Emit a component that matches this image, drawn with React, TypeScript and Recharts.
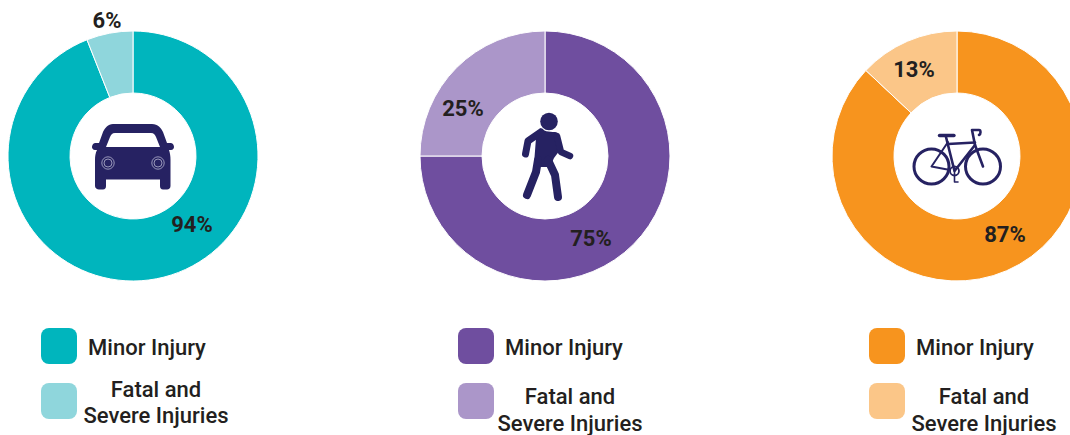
import { PieChart, Pie, Cell } from 'recharts';

const CATEGORIES = ['Minor Injury', 'Fatal and Severe Injuries'];
const CAR_VALUES = [94, 6];
const WALK_VALUES = [75, 25];
const BIKE_VALUES = [87, 13];

const TEAL = ['#00B5BD', '#8FD6DC'];
const PURPLE = ['#6F4E9F', '#AB96C9'];
const ORANGE = ['#F7941E', '#FBC688'];
const NAVY = '#262262';
const INK = '#231F20';
const FONT = 'Roboto, sans-serif';

const toRows = (values: number[]) => values.map((value, i) => ({ name: CATEGORIES[i], value }));

// label anchors are hand placed per slice, relative to the donut centre
const pieLabel = (offsets: number[][]) => (props: any) => {
  const [dx, dy] = offsets[props.index];
  return (
    <text
      x={props.cx + dx}
      y={props.cy + dy}
      textAnchor="middle"
      dominantBaseline="central"
      fontFamily={FONT}
      fontWeight={700}
      fontSize={22}
      fill={INK}
    >
      {props.value}%
    </text>
  );
};

function Donut({ values, colors, cx, offsets }: { values: number[]; colors: string[]; cx: number; offsets: number[][] }) {
  return (
    <Pie
      data={toRows(values)}
      dataKey="value"
      cx={cx}
      cy={156}
      innerRadius={63}
      outerRadius={125}
      startAngle={90}
      endAngle={-270}
      stroke="#fff"
      strokeWidth={1}
      isAnimationActive={false}
      labelLine={false}
      label={pieLabel(offsets)}
    >
      {values.map((_, i) => (
        <Cell key={i} fill={colors[i]} />
      ))}
    </Pie>
  );
}

const CarIcon = () => (
  <g>
    <path
      fill={NAVY}
      fillRule="evenodd"
      d="M113 124 H152 C158 124 161 128 163 132 L167 143 H171 C175 144 175 150 171 150 H169 C170 153 170.500 156 170.500 160 V186 C170.500 188 169 189.500 167 189.500 H163 C161 189.500 160 188 160 186 V179.500 H106 V186 C106 188 105 189.500 103 189.500 H99 C97 189.500 95 188 95 186 V160 C95 156 95.500 153 97 150 H95 C91 150 91 144 95 143 H99 L103 132 C105 128 108 124 113 124 Z M115 133 C112 133 111 135 110 137 L106 147 H160 L156 137 C155 135 154 133 151 133 Z"
    />
    {[108, 158].map((x) => (
      <g key={x} fill="none" stroke="#C9C8DE" strokeWidth={0.7}>
        <circle cx={x} cy={163} r={6.200} />
        <circle cx={x} cy={163} r={4} />
      </g>
    ))}
  </g>
);

const WalkerIcon = () => (
  <g fill="none" stroke={NAVY} strokeLinecap="round" strokeLinejoin="round">
    <circle cx={549} cy={121.500} r={8.800} fill={NAVY} stroke="none" />
    <path
      fill={NAVY}
      stroke="none"
      d="M540 128 C543 131 549 132 555 132 C557 132 558 134 558.500 136 L560 150 L554 158 L550 167 L540 167 L534 164 L536 138 Z"
    />
    <path d="M541 132 L528 141 L525.500 154" strokeWidth={7} />
    <path d="M557 136 L561 152 L570 156" strokeWidth={6.500} />
    <path d="M538 160 L536 172 L527 195" strokeWidth={8} />
    <path d="M548 160 L555 175 L558 197" strokeWidth={8} />
  </g>
);

const BikeIcon = () => (
  <g fill="none" stroke={NAVY} strokeWidth={2.600} strokeLinecap="round" strokeLinejoin="round">
    <circle cx={931.500} cy={166.500} r={17.500} strokeWidth={3} />
    <circle cx={983} cy={166.500} r={17.500} strokeWidth={3} />
    <circle cx={954.500} cy={171} r={4.500} strokeWidth={1.800} />
    <path d="M939.500 135.500 H954" strokeWidth={3.400} />
    <path d="M946 137 L954.500 171 L975 145 L972 130 H979 C981 130 981 134 979 135" />
    <path d="M948 144 L975 142.500" />
    <path d="M931.500 166.500 L948 142 M931.500 166.500 L950 170" strokeWidth={2} />
    <path d="M975 145 L983 166.500" />
    <path d="M954.500 171 V182 H958" strokeWidth={1.600} />
  </g>
);

function LegendKey({ x, y, color }: { x: number; y: number; color: string }) {
  return <div style={{ position: 'absolute', left: x, top: y, width: 36, height: 36, borderRadius: 8, background: color }} />;
}

function LegendText({ x, y, children }: { x: number; y: number; children: string }) {
  return (
    <div
      style={{
        position: 'absolute',
        left: x - 120,
        top: y - 14,
        width: 240,
        height: 28,
        lineHeight: '28px',
        textAlign: 'center',
        fontFamily: FONT,
        fontWeight: 500,
        fontSize: 22,
        color: INK,
        whiteSpace: 'nowrap',
      }}
    >
      {children}
    </div>
  );
}

export default function App() {
  return (
    <div style={{ position: 'fixed', left: 0, top: 0, width: 1070, height: 435, background: '#fff', overflow: 'hidden' }}>
      <PieChart width={1070} height={435} margin={{ top: 0, right: 0, bottom: 0, left: 0 }}>
        {Donut({ values: CAR_VALUES, colors: TEAL, cx: 133, offsets: [[59, 68], [-26, -136]] })}
        {Donut({ values: WALK_VALUES, colors: PURPLE, cx: 545, offsets: [[46, 82], [-82, -48]] })}
        {Donut({ values: BIKE_VALUES, colors: ORANGE, cx: 957, offsets: [[48, 78], [-43, -87]] })}
      </PieChart>

      {/* mode icons in the donut holes */}
      <svg width={1070} height={435} style={{ position: 'absolute', left: 0, top: 0 }}>
        <CarIcon />
        <WalkerIcon />
        <BikeIcon />
      </svg>

      <LegendKey x={41} y={328} color={TEAL[0]} />
      <LegendKey x={41} y={383} color={TEAL[1]} />
      <LegendText x={147} y={348}>Minor Injury</LegendText>
      <LegendText x={156} y={390}>Fatal and</LegendText>
      <LegendText x={156} y={416}>Severe Injuries</LegendText>

      <LegendKey x={458} y={328} color={PURPLE[0]} />
      <LegendKey x={458} y={383} color={PURPLE[1]} />
      <LegendText x={564} y={348}>Minor Injury</LegendText>
      <LegendText x={570} y={397}>Fatal and</LegendText>
      <LegendText x={570} y={424}>Severe Injuries</LegendText>

      <LegendKey x={869} y={328} color={ORANGE[0]} />
      <LegendKey x={869} y={383} color={ORANGE[1]} />
      <LegendText x={975} y={348}>Minor Injury</LegendText>
      <LegendText x={984} y={397}>Fatal and</LegendText>
      <LegendText x={984} y={424}>Severe Injuries</LegendText>
    </div>
  );
}
